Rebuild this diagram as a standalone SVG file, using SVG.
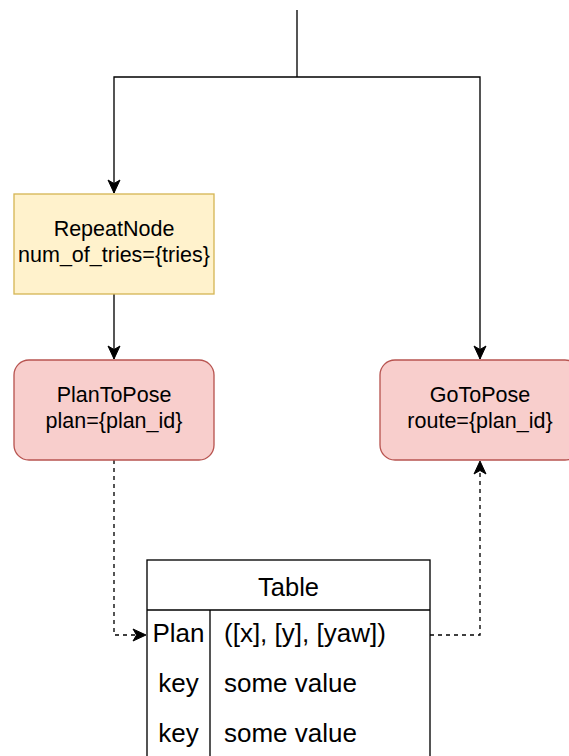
<svg xmlns="http://www.w3.org/2000/svg" width="569" height="756" viewBox="0 0 569 756">
  <style>
    .edge { fill: none; stroke: #000; stroke-width: 1.33; }
    .dash { stroke-dasharray: 4 4; }
    .lbl { font-family: "Liberation Sans", Arial, Helvetica, sans-serif; fill: #000; }
    .node-text { font-size: 21.5px; text-anchor: middle; }
    .decorator { fill: #fff2cc; stroke: #d6b656; stroke-width: 1.33; }
    .action { fill: #f8cecc; stroke: #b85450; stroke-width: 1.33; }
    .tbl { fill: #fff; stroke: #000; stroke-width: 1.33; }
    .tbl-line { stroke: #000; stroke-width: 1.33; }
  </style>
  <defs>
    <marker id="arrow" markerUnits="userSpaceOnUse" markerWidth="16" markerHeight="16" viewBox="-14 -8 16 16" refX="0" refY="0" orient="auto">
      <path d="M0,0 L-13,-6 L-9.5,0 L-13,6 Z" fill="#000" stroke="#000" stroke-width="1"/>
    </marker>
  </defs>

  <rect width="569" height="756" fill="#fff"/>

  <!-- connectors -->
  <g id="connectors">
    <path class="edge" d="M297,10 V77"/>
    <path class="edge" d="M297,77 H114 V193" marker-end="url(#arrow)"/>
    <path class="edge" d="M297,77 H480 V359" marker-end="url(#arrow)"/>
    <path class="edge" d="M114,294 V359" marker-end="url(#arrow)"/>
    <path class="edge dash" d="M114,460 V635 H146" marker-end="url(#arrow)"/>
    <path class="edge dash" d="M430,635 H480 V461" marker-end="url(#arrow)"/>
  </g>

  <!-- repeat decorator -->
  <g id="repeat-node">
    <rect class="decorator" x="14" y="194" width="200" height="100"/>
    <text class="lbl node-text" x="114" y="236">RepeatNode</text>
    <text class="lbl node-text" x="114" y="262">num_of_tries={tries}</text>
  </g>

  <!-- planning action -->
  <g id="plan-to-pose">
    <rect class="action" x="14" y="360" width="200" height="100" rx="15" ry="15"/>
    <text class="lbl node-text" x="114" y="402">PlanToPose</text>
    <text class="lbl node-text" x="114" y="428">plan={plan_id}</text>
  </g>

  <!-- motion action -->
  <g id="go-to-pose">
    <rect class="action" x="380" y="360" width="200" height="100" rx="15" ry="15"/>
    <text class="lbl node-text" x="480" y="402">GoToPose</text>
    <text class="lbl node-text" x="480" y="428">route={plan_id}</text>
  </g>

  <!-- blackboard table -->
  <g id="table">
    <rect class="tbl" x="147" y="560" width="283" height="210"/>
    <line class="tbl-line" x1="147" y1="610" x2="430" y2="610"/>
    <line class="tbl-line" x1="210" y1="610" x2="210" y2="770"/>
    <text class="lbl" x="288.5" y="596" font-size="25.5" text-anchor="middle">Table</text>
    <text class="lbl" x="178.5" y="642" font-size="26" text-anchor="middle">Plan</text>
    <text class="lbl" x="224" y="642" font-size="26">([x], [y], [yaw])</text>
    <text class="lbl" x="178.5" y="692" font-size="26" text-anchor="middle">key</text>
    <text class="lbl" x="224" y="692" font-size="26">some value</text>
    <text class="lbl" x="178.5" y="742" font-size="26" text-anchor="middle">key</text>
    <text class="lbl" x="224" y="742" font-size="26">some value</text>
  </g>
</svg>
